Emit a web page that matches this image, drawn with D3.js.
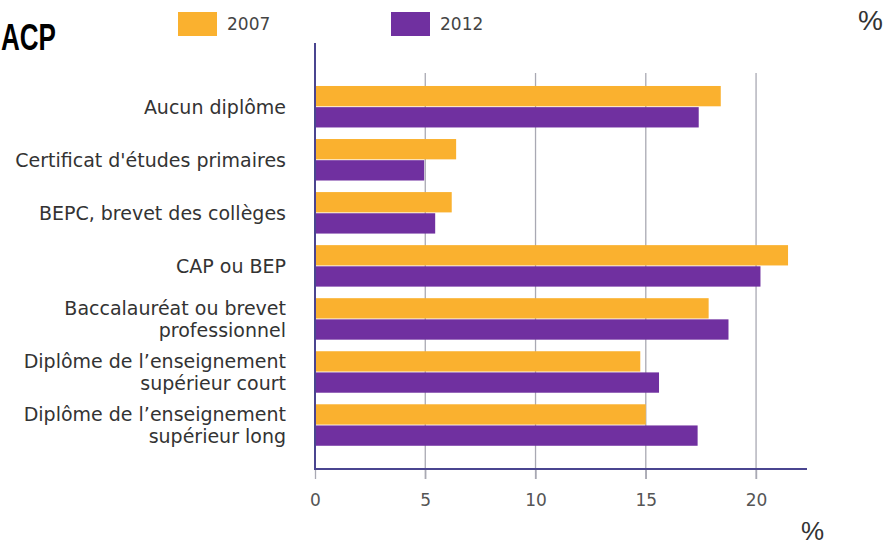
<!DOCTYPE html>
<html>
<head>
<meta charset="utf-8">
<script src="https://cdn.jsdelivr.net/npm/d3@7"></script>
<style>
  html, body { margin: 0; padding: 0; background: #fff; }
  svg { display: block; }
</style>
</head>
<body>
<svg id="chart" width="888" height="548"></svg>
<script>
const categories = [
  ["Aucun diplôme"],
  ["Certificat d'études primaires"],
  ["BEPC, brevet des collèges"],
  ["CAP ou BEP"],
  ["Baccalauréat ou brevet", "professionnel"],
  ["Diplôme de l’enseignement", "supérieur court"],
  ["Diplôme de l’enseignement", "supérieur long"],
];
const series = ["2007", "2012"];
const values2007 = [18.4, 6.4, 6.2, 21.45, 17.85, 14.75, 15.0];
const values2012 = [17.4, 4.95, 5.45, 20.2, 18.75, 15.6, 17.35];
const xTicks = [0, 5, 10, 15, 20];

const colors = { "2007": "#fab12f", "2012": "#7030a0" };
const axisColor = "#4a4590";
const gridColor = "#a9a9b3";

const svg = d3.select("#chart");

const x = d3.scaleLinear().domain([0, 22.31]).range([315, 807]);
const y = d3
  .scaleBand()
  .domain(d3.range(categories.length))
  .range([80.2, 451.55])
  .paddingInner(0.218)
  .paddingOuter(0.109);
const ySub = d3.scaleBand().domain(series).range([0, y.bandwidth()]).paddingInner(0.04);

const rows = categories.map((label, i) => ({
  i,
  label,
  vals: [
    { key: "2007", v: values2007[i] },
    { key: "2012", v: values2012[i] },
  ],
}));

// gridlines (drawn under the bars)
svg
  .append("g")
  .selectAll("line")
  .data(xTicks.filter((t) => t > 0))
  .join("line")
  .attr("x1", (d) => x(d))
  .attr("x2", (d) => x(d))
  .attr("y1", 73)
  .attr("y2", 479)
  .attr("stroke", gridColor)
  .attr("stroke-width", 1.3);

// bars
const groups = svg
  .append("g")
  .selectAll("g")
  .data(rows)
  .join("g")
  .attr("transform", (d) => `translate(0,${y(d.i)})`);

groups
  .selectAll("rect")
  .data((d) => d.vals)
  .join("rect")
  .attr("x", x(0))
  .attr("y", (d) => ySub(d.key))
  .attr("width", (d) => x(d.v) - x(0))
  .attr("height", ySub.bandwidth())
  .attr("fill", (d) => colors[d.key]);

// category labels
const labels = svg
  .append("g")
  .selectAll("text")
  .data(rows)
  .join("text")
  .attr("text-anchor", "end")
  .attr("font-family", "DejaVu Sans, Verdana, sans-serif")
  .attr("font-size", 19)
  .attr("fill", "#333")
  .attr("x", 286)
  .attr("y", (d) => y(d.i) + y.bandwidth() / 2);

labels
  .selectAll("tspan")
  .data((d) => d.label.map((t, k) => ({ t, k, n: d.label.length })))
  .join("tspan")
  .attr("x", 286)
  .attr("dy", (d) => (d.k === 0 ? (d.n === 1 ? "0.36em" : -11 + 6.8) : 22))
  .text((d) => d.t);

// x axis
const xAxis = d3.axisBottom(x).tickValues(xTicks).tickSize(10).tickFormat(d3.format("d"));
const gx = svg.append("g").attr("transform", "translate(0,469)").call(xAxis);
gx.select(".domain").remove();
gx.selectAll(".tick line").attr("stroke", gridColor).attr("stroke-width", 1.3);
gx.selectAll(".tick text")
  .attr("y", 25)
  .attr("font-family", "DejaVu Sans, Verdana, sans-serif")
  .attr("font-size", 17)
  .attr("fill", "#555");

svg
  .append("line")
  .attr("x1", x(0))
  .attr("x2", 807)
  .attr("y1", 469)
  .attr("y2", 469)
  .attr("stroke", axisColor)
  .attr("stroke-width", 2);

// y axis line
svg
  .append("line")
  .attr("x1", x(0))
  .attr("x2", x(0))
  .attr("y1", 43)
  .attr("y2", 470)
  .attr("stroke", axisColor)
  .attr("stroke-width", 2);

// legend
const legendX = [178, 391];
const legend = svg
  .append("g")
  .selectAll("g")
  .data(series)
  .join("g")
  .attr("transform", (d, i) => `translate(${legendX[i]},12)`);
legend
  .append("rect")
  .attr("width", 39)
  .attr("height", 24)
  .attr("fill", (d) => colors[d]);
legend
  .append("text")
  .attr("x", 49)
  .attr("y", 12)
  .attr("dy", "0.36em")
  .attr("font-family", "DejaVu Sans, Verdana, sans-serif")
  .attr("font-size", 17)
  .attr("fill", "#444")
  .text((d) => d);

// titles / unit marks
svg
  .append("text")
  .attr("x", 1)
  .attr("y", 50)
  .attr("font-family", "Liberation Sans, Arial, sans-serif")
  .attr("font-weight", "bold")
  .attr("font-size", 36)
  .attr("textLength", 55)
  .attr("lengthAdjust", "spacingAndGlyphs")
  .attr("fill", "#000")
  .text("ACP");

svg
  .append("text")
  .attr("x", 858)
  .attr("y", 30)
  .attr("font-family", "Liberation Sans, Arial, sans-serif")
  .attr("font-size", 28)
  .attr("fill", "#333")
  .text("%");

svg
  .append("text")
  .attr("x", 801)
  .attr("y", 540)
  .attr("font-family", "Liberation Sans, Arial, sans-serif")
  .attr("font-size", 26)
  .attr("fill", "#333")
  .text("%");
</script>
</body>
</html>
